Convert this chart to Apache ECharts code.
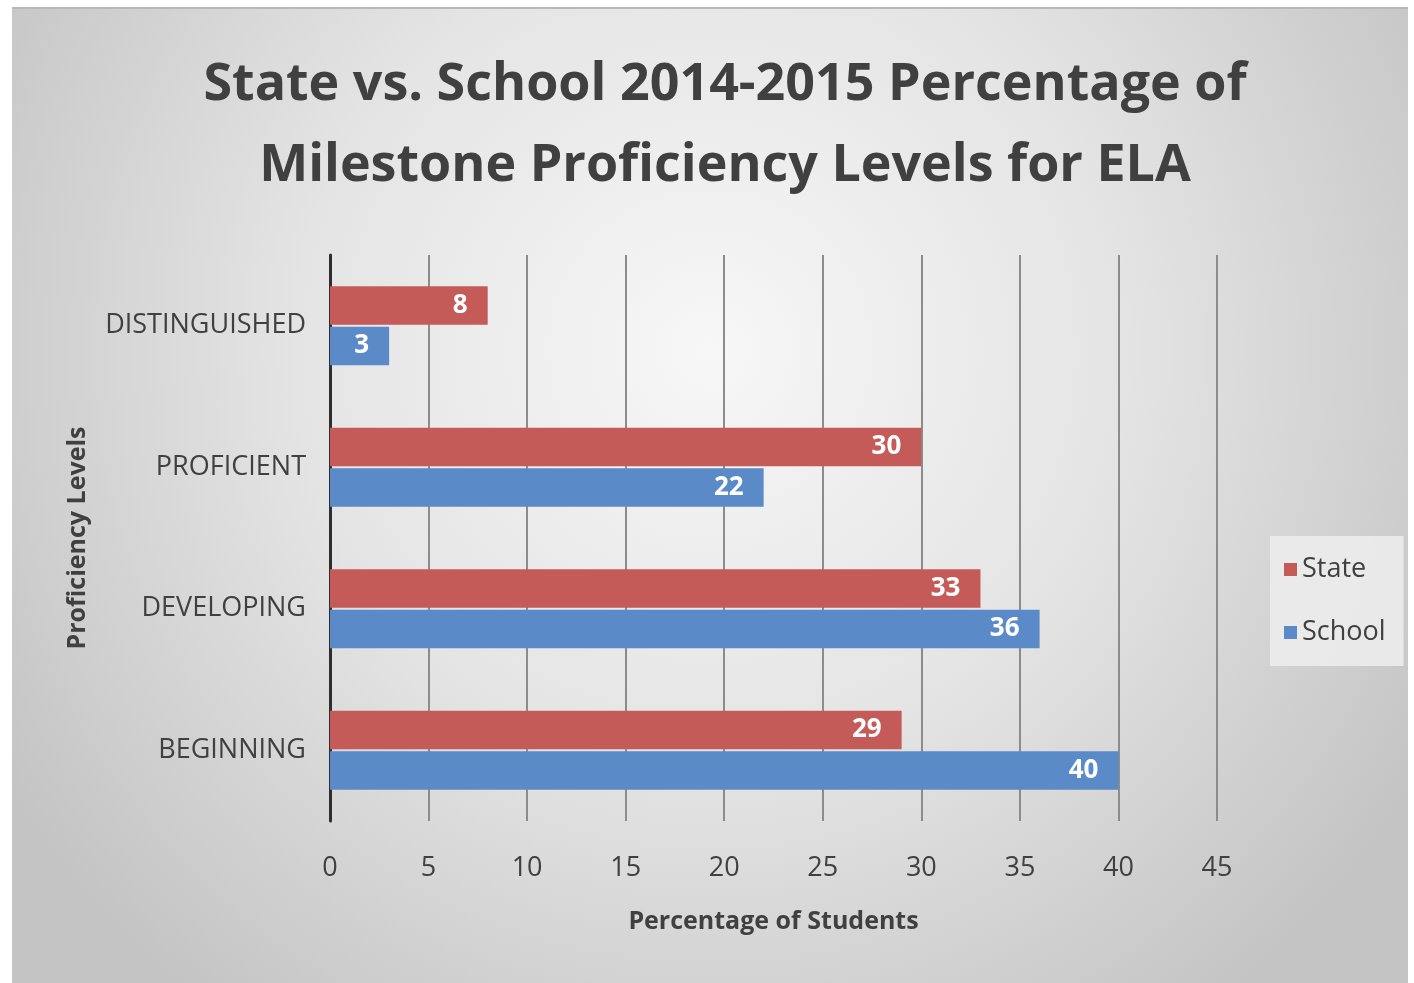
<!DOCTYPE html>
<html>
<head>
<meta charset="utf-8">
<script src="https://cdn.jsdelivr.net/npm/echarts@6/dist/echarts.min.js"></script>
<style>
  html, body { margin: 0; padding: 0; background: #fff; }
  #chart {
    position: absolute;
    left: 12px;
    top: 7px;
    width: 1396px;
    height: 976px;
    border-top: 2px solid #b8b8b8;
    box-sizing: border-box;
  }
</style>
</head>
<body>
<div id="chart"></div>
<script>
// categories from bottom to top
const levels = ['BEGINNING', 'DEVELOPING', 'PROFICIENT', 'DISTINGUISHED'];
const stateValues = [29, 33, 30, 8];
const schoolValues = [40, 36, 22, 3];

const chart = echarts.init(document.getElementById('chart'));
const font = '"Open Sans", "Noto Sans", sans-serif';
const textColor = '#404040';

const labelStyle = {
  show: true,
  position: 'insideRight',
  color: '#fff',
  fontWeight: 'bold',
  fontSize: 26,
  fontFamily: font,
  distance: 20
}

chart.setOption({
  backgroundColor: {
    type: 'radial',
    x: 0.5, y: 0.35, r: 0.85,
    colorStops: [
      {offset: 0, color: '#f7f7f7'},
      {offset: 0.5, color: '#e4e4e4'},
      {offset: 1, color: '#c4c4c4'}
    ]
  },
  title: {
    text: 'State vs. School 2014-2015 Percentage of\nMilestone Proficiency Levels for ELA',
    left: 708,
    textAlign: 'center',
    top: 31,
    textStyle: {
      color: textColor,
      fontFamily: font,
      fontWeight: 'bold',
      fontSize: 52,
      lineHeight: 81
    }
  },
  legend: {
    orient: 'vertical',
    left: 1258,
    top: 527,
    padding: [20, 18, 20, 14],
    itemGap: 36,
    itemWidth: 13,
    itemHeight: 13,
    icon: 'rect',
    backgroundColor: 'rgba(236,236,236,0.9)',
    textStyle: {color: textColor, fontSize: 27, fontFamily: font},
    data: ['State', 'School']
  },
  grid: {
    left: 318,
    right: 191,
    top: 246,
    bottom: 162
  },
  xAxis: {
    type: 'value',
    min: 0,
    max: 45,
    interval: 5,
    name: 'Percentage of Students',
    nameLocation: 'middle',
    nameGap: 88,
    nameTextStyle: {color: textColor, fontSize: 25, fontWeight: 'bold', fontFamily: font},
    axisLine: {show: false},
    axisTick: {show: false},
    axisLabel: {color: textColor, fontSize: 27, fontFamily: font, margin: 34},
    splitLine: {show: true, lineStyle: {color: '#8c8c8c', width: 2}}
  },
  yAxis: {
    type: 'category',
    data: levels,
    name: 'Proficiency Levels',
    nameLocation: 'middle',
    nameGap: 240,
    nameTextStyle: {color: textColor, fontSize: 25, fontWeight: 'bold', fontFamily: font},
    axisLine: {show: true, lineStyle: {color: '#2e2e2e', width: 3}},
    axisTick: {show: false},
    axisLabel: {color: textColor, fontSize: 27, fontFamily: font, margin: 24}
  },
  series: [
    {
      name: 'State',
      type: 'bar',
      data: stateValues,
      itemStyle: {color: '#c45b58'},
      barGap: '5%',
      barCategoryGap: '44%',
      label: labelStyle
    },
    {
      name: 'School',
      type: 'bar',
      data: schoolValues,
      itemStyle: {color: '#5a8bc8'},
      label: labelStyle
    }
  ]
});
</script>
</body>
</html>
